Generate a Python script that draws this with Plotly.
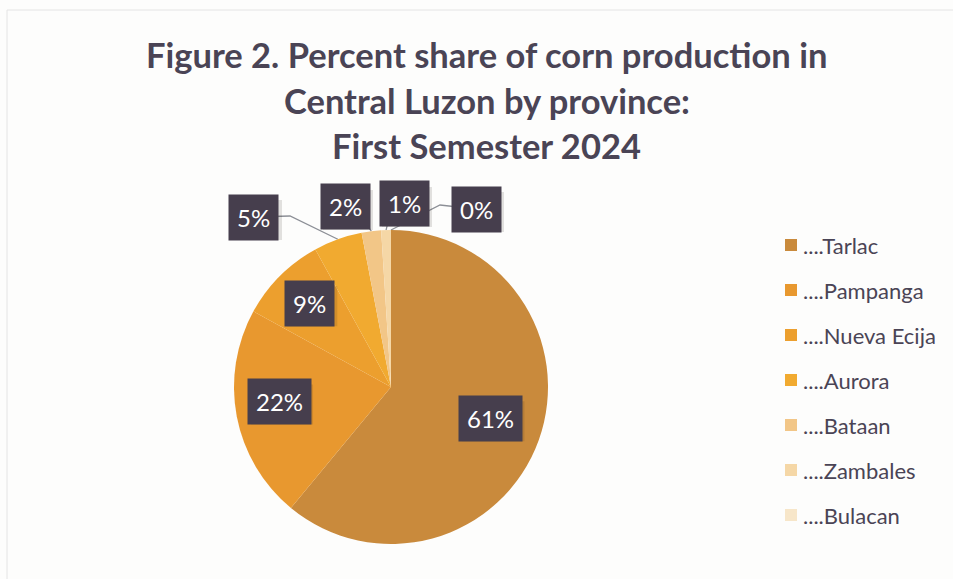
import math
import plotly.graph_objects as go

# Corn production share by province, Central Luzon, first semester 2024
provinces = ["Tarlac", "Pampanga", "Nueva Ecija", "Aurora", "Bataan", "Zambales", "Bulacan"]
shares = [61, 22, 9, 5, 2, 1, 0]
legend_labels = ["...." + p for p in provinces]
colors = ["#c98a3c", "#e8982f", "#ec9f2e", "#f1aa30", "#f2c687", "#f5d7a6", "#f7e6c9"]

title_lines = [
    "Figure 2. Percent share of corn production in",
    "Central Luzon by province:",
    "First Semester 2024",
]

W, H = 953, 579
CX, CY, R = 391, 387, 157  # pie centre / radius in pixels

TEXT_COLOR = "#4a4455"
BOX_COLOR = "#463e4d"
FONT = "Lato"


def px(x):
    return x / W


def py(y):
    return 1 - y / H


fig = go.Figure()
fig.add_trace(go.Pie(
    labels=provinces,
    values=shares,
    sort=False,
    direction="clockwise",
    rotation=0,
    marker=dict(colors=colors, line=dict(width=0)),
    textinfo="none",
    hoverinfo="label+percent",
    showlegend=False,
    domain=dict(x=[px(CX - R), px(CX + R)], y=[py(CY + R), py(CY - R)]),
))

annotations = []
shapes = []

# title
for i, line in enumerate(title_lines):
    annotations.append(dict(
        text=f"<b>{line}</b>", x=px(487), y=py(55 + i * 45), xref="paper", yref="paper",
        showarrow=False, xanchor="center", yanchor="middle",
        font=dict(family=FONT, size=34.5, color=TEXT_COLOR),
    ))

# label placement: inside labels at a fraction of radius, outside ones offset with leader lines
outside = {
    "Aurora": dict(box=(254, 217), elbow=(290, 216)),
    "Bataan": dict(box=(345, 207), elbow=(366, 224)),
    "Zambales": dict(box=(404, 204), elbow=(388, 222)),
    "Bulacan": dict(box=(476, 209), elbow=(440, 205)),
}
total = sum(shares)
cum = 0.0


def data_label(text, x, y):
    # soft drop shadow behind the dark label box
    half_w = (26 + 12 * len(text)) / 2
    half_h = 20
    shapes.append(dict(type="rect", xref="paper", yref="paper",
                       x0=px(x - half_w + 3), x1=px(x + half_w + 3),
                       y0=py(y + half_h + 3), y1=py(y - half_h + 3),
                       fillcolor="rgba(40,30,20,0.13)", line=dict(width=0)))
    annotations.append(dict(
        text=text, x=px(x), y=py(y), xref="paper", yref="paper", showarrow=False,
        xanchor="center", yanchor="middle", borderpad=8,
        font=dict(family=FONT, size=24, color="white"), bgcolor=BOX_COLOR,
    ))


for name, val in zip(provinces, shares):
    mid = (cum + val / 2) / total * 2 * math.pi
    cum += val
    label = f"{round(val / total * 100)}%"
    if name in outside:
        ex = CX + R * math.sin(mid)
        ey = CY - R * math.cos(mid)
        bx, by = outside[name]["box"]
        elx, ely = outside[name]["elbow"]
        shapes.append(dict(
            type="path", xref="paper", yref="paper",
            path=f"M {px(ex)} {py(ey)} L {px(elx)} {py(ely)} L {px(bx)} {py(by)}",
            line=dict(color="#8c8f96", width=1.3), layer="below",
        ))
        data_label(label, bx, by)
    else:
        lx = CX + 0.70 * R * math.sin(mid) - 4
        ly = CY - 0.70 * R * math.cos(mid) - 6
        data_label(label, lx, ly)

# legend
for i, (lab, col) in enumerate(zip(legend_labels, colors)):
    yy = 245 + i * 45
    shapes.append(dict(type="rect", xref="paper", yref="paper",
                       x0=px(785), x1=px(797), y0=py(yy + 6), y1=py(yy - 6),
                       fillcolor=col, line=dict(width=0)))
    annotations.append(dict(
        text=lab, x=px(801), y=py(yy), xref="paper", yref="paper", showarrow=False,
        xanchor="left", yanchor="middle",
        font=dict(family=FONT, size=22, color=TEXT_COLOR),
    ))

# faint chart frame
shapes.append(dict(type="rect", xref="paper", yref="paper",
                   x0=px(7), x1=px(W + 5), y0=py(H + 5), y1=py(10),
                   line=dict(color="#e4e4e4", width=1), layer="below"))

fig.update_layout(
    width=W, height=H,
    margin=dict(l=0, r=0, t=0, b=0),
    paper_bgcolor="#fdfdfc",
    plot_bgcolor="#fdfdfc",
    showlegend=False,
    annotations=annotations,
    shapes=shapes,
)

fig.write_html("out.html")
